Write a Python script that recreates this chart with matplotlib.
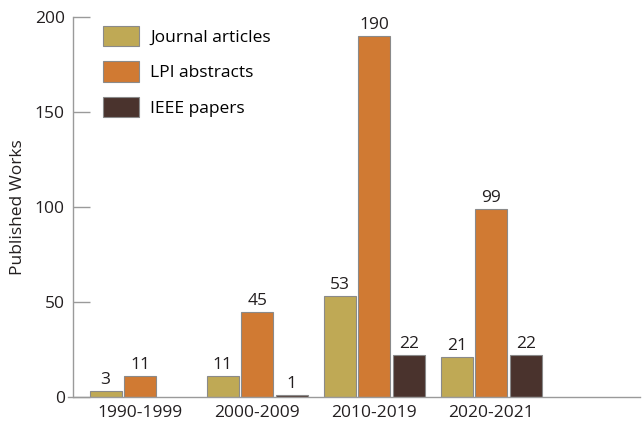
import numpy as np
import matplotlib.pyplot as plt
from matplotlib.patches import Patch

plt.rcParams['font.family'] = ['Open Sans', 'DejaVu Sans']

decades = ['1990-1999', '2000-2009', '2010-2019', '2020-2021']
journal = [3, 11, 53, 21]
lpi = [11, 45, 190, 99]
ieee = [0, 1, 22, 22]

series_names = ['Journal articles', 'LPI abstracts', 'IEEE papers']
colors = ['#BFA955', '#D07A33', '#4A332D']

fig = plt.figure(figsize=(6.42, 4.28), dpi=100)
ax = fig.add_axes([0.1137, 0.0724, 0.8833, 0.8879])

x = np.arange(len(decades))
w = 0.274
off = 0.295
for i, (vals, c) in enumerate(zip([journal, lpi, ieee], colors)):
    pos = x + (i - 1) * off
    for p, v in zip(pos, vals):
        if v == 0:
            continue
        ax.bar(p, v, width=w, color=c, edgecolor='#8a8a8a', linewidth=0.8)
        ax.text(p, v + 1.5, str(v), ha='center', va='bottom', fontsize=12.5, color='#231f20')

ax.set_xlim(-0.573, 4.27)
ax.set_ylim(0, 200)
ax.set_yticks([0, 50, 100, 150, 200])
ax.set_xticks(x)
ax.set_xticklabels(decades)
ax.tick_params(axis='x', length=0, labelsize=12.5, pad=6, labelcolor='#231f20')
ax.tick_params(axis='y', direction='in', length=12, width=1, color='#9a9a9a',
               labelsize=12.5, pad=6, labelcolor='#231f20')
for s in ['top', 'right']:
    ax.spines[s].set_visible(False)
ax.spines['left'].set_color('#9a9a9a')
ax.spines['left'].set_linewidth(1)
ax.spines['bottom'].set_visible(False)
# x axis line runs a little past the y axis on the left
ax.plot([-0.615, 4.27], [0, 0], color='#9a9a9a', linewidth=1, clip_on=False, zorder=3)
ax.set_ylabel('Published Works', fontsize=12.5, color='#231f20', labelpad=6)

handles = [Patch(facecolor=c, edgecolor='#8a8a8a', linewidth=0.8) for c in colors]
ax.legend(handles, series_names, loc='upper left', bbox_to_anchor=(0.025, 1.018),
          frameon=False, fontsize=12.5, handlelength=2.1, handleheight=1.45,
          labelspacing=0.85, handletextpad=0.63)

fig.savefig('out.png', dpi=100)
